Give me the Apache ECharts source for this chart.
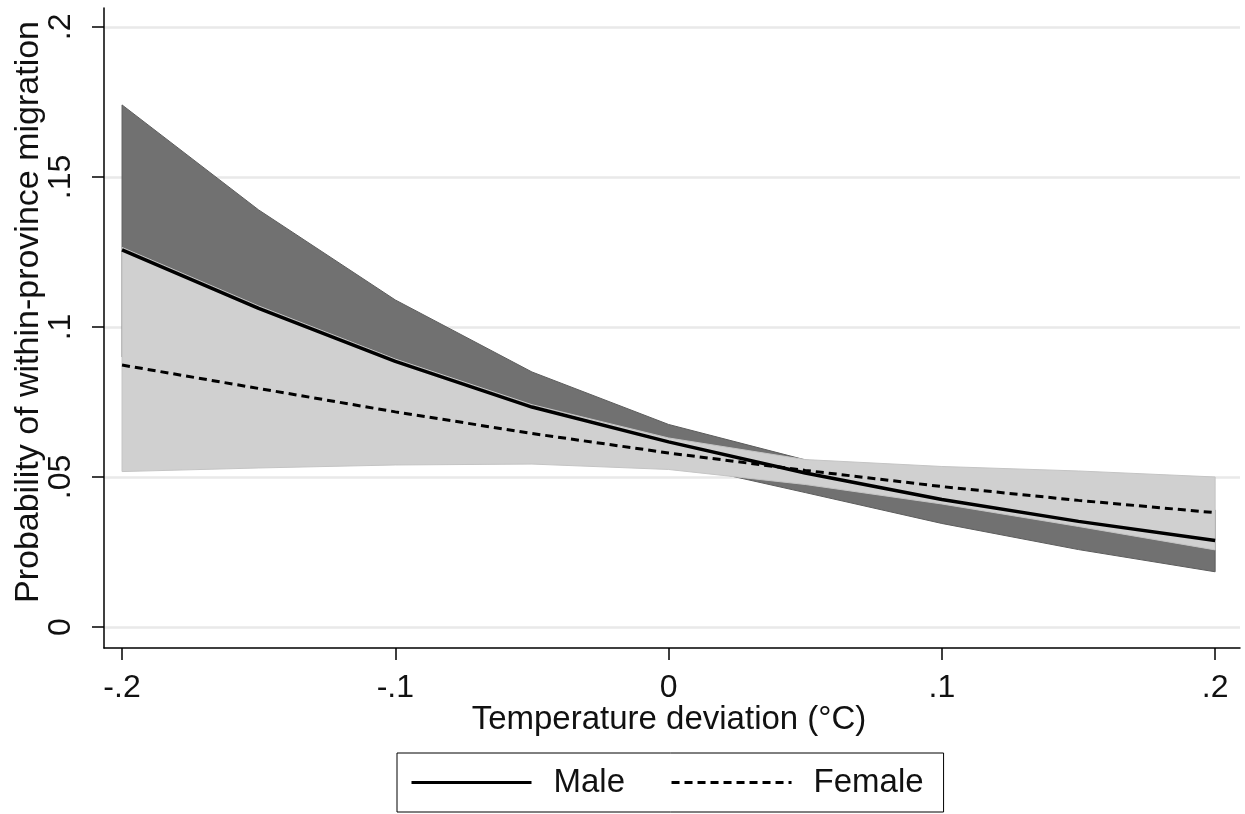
<!DOCTYPE html>
<html>
<head>
<meta charset="utf-8">
<script src="https://cdn.jsdelivr.net/npm/echarts@6/dist/echarts.min.js"></script>
<style>
  html, body { margin: 0; padding: 0; background: #fff; }
  #chart { width: 1245px; height: 814px; }
</style>
</head>
<body>
<div id="chart"></div>
<script>
const temps = [-0.2, -0.15, -0.1, -0.05, 0, 0.05, 0.1, 0.15, 0.2];
const maleMean = [0.1257, 0.1062, 0.0885, 0.0733, 0.0617, 0.0513, 0.0425, 0.0352, 0.0288];
const maleLow = [0.0900, 0.0830, 0.0730, 0.0640, 0.0550, 0.0448, 0.0345, 0.0258, 0.0184];
const maleHigh = [0.1740, 0.1390, 0.1090, 0.0850, 0.0675, 0.0557, 0.0490, 0.0440, 0.0390];
const femaleMean = [0.0873, 0.0795, 0.0717, 0.0645, 0.0580, 0.0522, 0.0468, 0.0422, 0.0381];
const femaleLow = [0.0518, 0.0530, 0.0540, 0.0543, 0.0525, 0.0475, 0.0410, 0.0335, 0.0257];
const femaleHigh = [0.1265, 0.1070, 0.0893, 0.0741, 0.0630, 0.0558, 0.0535, 0.0520, 0.0500];

const xTicks = [-0.2, -0.1, 0, 0.1, 0.2];
const yTicks = [0, 0.05, 0.1, 0.15, 0.2];

const font = "'Liberation Sans', Arial, sans-serif";

function stataLabel(v) {
    if (v === 0) return '0';
    return String(v).replace('0.', '.');
}

function bandSeries(name, low, high, fill, stroke) {
    return {
        type: 'custom',
        name: name,
        silent: true,
        data: [[0, 0.1]],
        renderItem: (params, api) => {
            const top = temps.map((t, i) => api.coord([t, high[i]]));
            const bottom = temps.map((t, i) => api.coord([t, low[i]])).reverse();
            return {
                type: 'polygon',
                shape: { points: top.concat(bottom) },
                style: { fill: fill, stroke: stroke, lineWidth: 1 }
            };
        }
    };
}

const chart = echarts.init(document.getElementById('chart'));

chart.setOption({
    animation: false,
    grid: { left: 104, right: 5, top: 8, bottom: 166, outerBoundsMode: 'none', containLabel: false },
    legend: {
        data: ['Male', 'Female'],
        left: 397,
        top: 753,
        padding: [13, 20, 13, 13],
        itemGap: 45,
        itemWidth: 120,
        itemHeight: 14,
        borderColor: '#000',
        borderWidth: 1,
        itemStyle: { opacity: 0 },
        lineStyle: { width: 3 },
        textStyle: { fontFamily: font, fontSize: 33, color: '#111', padding: [0, 0, 0, 17] }
    },
    xAxis: {
        type: 'value',
        min: -0.2066,
        max: 0.2091,
        name: 'Temperature deviation (°C)',
        nameLocation: 'middle',
        nameGap: 55,
        nameMoveOverlap: false,
        nameTextStyle: { fontFamily: font, fontSize: 33, color: '#111', padding: [0, 6, 0, 0] },
        axisLine: { onZero: false, lineStyle: { color: '#000', width: 1.5 } },
        axisTick: { length: 12, customValues: xTicks, lineStyle: { color: '#000', width: 1.5 } },
        axisLabel: {
            customValues: xTicks,
            formatter: stataLabel,
            margin: 24,
            fontFamily: font,
            fontSize: 32,
            color: '#111'
        },
        splitLine: { show: false }
    },
    yAxis: {
        type: 'value',
        min: -0.007,
        max: 0.2063,
        name: 'Probability of within-province migration',
        nameLocation: 'middle',
        nameGap: 58,
        nameMoveOverlap: false,
        nameTextStyle: { fontFamily: font, fontSize: 34, color: '#111', padding: [0, 0, 0, 32] },
        axisLine: { show: true, onZero: false, lineStyle: { color: '#000', width: 1.5 } },
        axisTick: { show: true, length: 12, customValues: yTicks, lineStyle: { color: '#000', width: 1.5 } },
        axisLabel: {
            customValues: yTicks,
            formatter: stataLabel,
            rotate: 90,
            margin: 27,
            fontFamily: font,
            fontSize: 32,
            color: '#111'
        },
        splitLine: { show: true, lineStyle: { color: '#e9e9e9', width: 2.5 } }
    },
    series: [
        bandSeries('Male CI', maleLow, maleHigh, '#717171', '#5c5c5c'),
        bandSeries('Female CI', femaleLow, femaleHigh, '#d0d0d0', '#c4c4c4'),
        {
            name: 'Male',
            type: 'line',
            symbol: 'none',
            data: temps.map((t, i) => [t, maleMean[i]]),
            lineStyle: { color: '#000', width: 3.5 },
            itemStyle: { color: '#000' },
            z: 5
        },
        {
            name: 'Female',
            type: 'line',
            symbol: 'none',
            data: temps.map((t, i) => [t, femaleMean[i]]),
            lineStyle: { color: '#000', width: 3, type: [8, 5] },
            itemStyle: { color: '#000' },
            z: 5
        }
    ]
});
</script>
</body>
</html>
